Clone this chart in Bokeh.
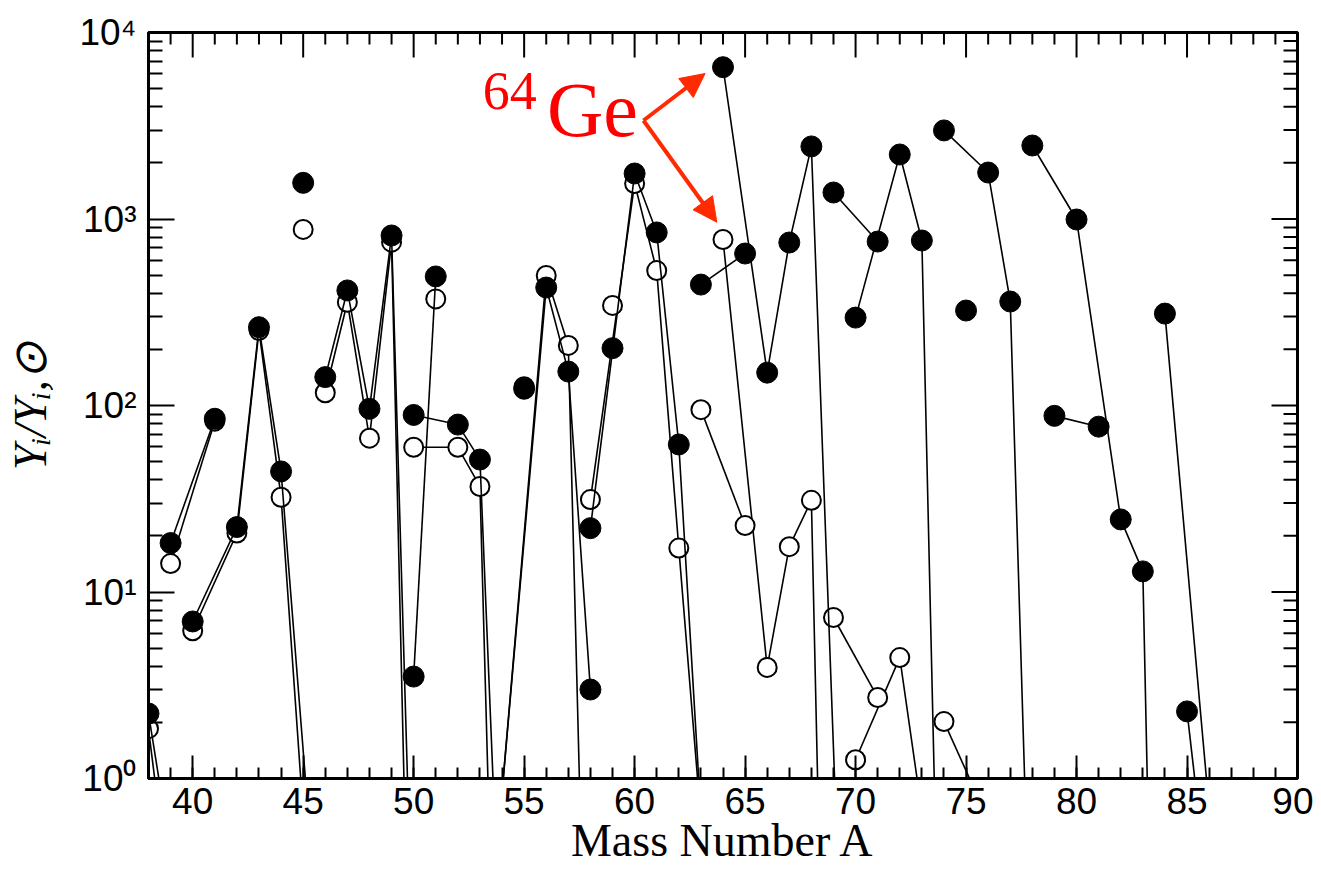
import math
from bokeh.plotting import figure
from bokeh.models import FixedTicker, Label, Arrow, NormalHead
from bokeh.embed import file_html
from bokeh.resources import INLINE

# ---------------- data (isotope chains: element, mass number A, Y_i / Y_i,sun) -------------
filled_elem = ["Ar", "Ar", "K", "K", "Ca", "Ca", "Ca", "Ca", "Ca", "Sc",
               "Ti", "Ti", "Ti", "Ti", "Ti", "V", "V", "Cr", "Cr", "Cr", "Cr", "Mn",
               "Fe", "Fe", "Fe", "Fe", "Co", "Ni", "Ni", "Ni", "Ni", "Ni", "Cu", "Cu",
               "Zn", "Zn", "Zn", "Zn", "Zn", "Ga", "Ga", "Ge", "Ge", "Ge", "Ge", "As",
               "Se", "Se", "Se", "Se", "Br", "Br", "Kr", "Kr", "Kr", "Kr", "Kr",
               "Rb", "Rb", "Sr", "Sr"]
filled_A = [38, 40, 39, 41, 40, 42, 43, 44, 46, 45,
            46, 47, 48, 49, 50, 50, 51, 50, 52, 53, 54, 55,
            54, 56, 57, 58, 59, 58, 60, 61, 62, 64, 63, 65,
            64, 66, 67, 68, 70, 69, 71, 70, 72, 73, 74, 75,
            74, 76, 77, 78, 79, 81, 78, 80, 82, 83, 84,
            85, 87, 84, 86]
filled_Y = [2.23, 0.073, 18.3, 84.9, 6.95, 22.3, 263, 44.3, 0.045, 1563,
            142, 414, 96, 816, 0.074, 3.52, 492, 89, 79, 51.3, 0.065, 123,
            0.84, 429, 152, 3.0, 203, 22.0, 1754, 847, 61.8, 0.0065, 445, 653,
            6516, 150, 748, 2450, 0.00085, 1387, 757, 296, 2218, 767, 0.0054, 323,
            2985, 1775, 361, 0.042, 88, 77, 2478, 994, 24.5, 12.9, 3.6e-5,
            2.29, 0.02, 311, 0.69]

open_elem = ["Ar", "Ar", "K", "K", "Ca", "Ca", "Ca", "Ca", "Ca", "Sc",
             "Ti", "Ti", "Ti", "Ti", "Ti", "V", "Cr", "Cr", "Cr", "Cr", "Mn",
             "Fe", "Fe", "Fe", "Fe", "Co", "Ni", "Ni", "Ni", "Ni", "Ni", "Cu", "Cu",
             "Zn", "Zn", "Zn", "Zn", "Zn", "Ga", "Ga", "Ge", "Ge", "Ge", "Se", "Se"]
open_A = [38, 40, 39, 41, 40, 42, 43, 44, 46, 45,
          46, 47, 48, 49, 50, 51, 50, 52, 53, 54, 55,
          54, 56, 57, 58, 59, 58, 60, 61, 62, 64, 63, 65,
          64, 66, 67, 68, 70, 69, 71, 70, 72, 73, 74, 76]
open_Y = [1.85, 0.0226, 14.2, 82.4, 6.2, 20.7, 253, 32.2, 0.013, 879,
          117, 358, 66.8, 751, 0.0055, 373, 59.7, 59.7, 36.8, 0.0017, 126,
          0.84, 498, 210, 0.0048, 344, 31.3, 1550, 529, 17.2, 0.021, 95, 22.7,
          776, 3.94, 17.5, 31, 7e-10, 7.3, 2.72, 1.26, 4.45, 0.66, 2.02, 0.60]

x_major = [40, 45, 50, 55, 60, 65, 70, 75, 80, 85, 90]
x_minor = list(range(38, 91))
y_major = [1, 10, 100, 1000, 10000]
y_minor = [m * 10 ** k for k in range(0, 4) for m in range(2, 10)]
y_labels = ["10\u2070", "10\u00b9", "10\u00b2", "10\u00b3", "10\u2074"]

X0, X1 = 38, 90
Y0, Y1 = 1, 10000


def chains(elem, A, Y):
    xs, ys = [], []
    prev = None
    for e, a, y in zip(elem, A, Y):
        if e != prev:
            xs.append([])
            ys.append([])
            prev = e
        xs[-1].append(a)
        ys[-1].append(y)
    return xs, ys


p = figure(width=1313, height=870, x_range=(X0, X1), y_range=(Y0, Y1),
           y_axis_type="log", output_backend="svg", toolbar_location=None,
           min_border_left=148, min_border_right=16, min_border_top=32,
           min_border_bottom=92)
p.xgrid.visible = False
p.ygrid.visible = False
p.outline_line_color = "black"
p.outline_line_width = 3
p.background_fill_color = "white"
p.border_fill_color = "white"


def style(ax):
    ax.axis_line_width = 3
    ax.axis_line_color = "black"
    ax.major_tick_line_width = 2
    ax.minor_tick_line_width = 2
    ax.major_tick_out = 0
    ax.minor_tick_out = 0
    ax.major_label_text_font = "Liberation Sans"
    ax.major_label_text_color = "black"


xa = p.xaxis[0]
xa.ticker = FixedTicker(ticks=x_major, minor_ticks=x_minor)
style(xa)
xa.major_tick_in = 23
xa.minor_tick_in = 11
xa.major_label_text_font_size = "37px"
xa.major_label_standoff = 9
xa.axis_label = "Mass Number A"
xa.axis_label_text_font = "Liberation Serif"
xa.axis_label_text_font_style = "normal"
xa.axis_label_text_font_size = "46px"
xa.axis_label_text_color = "black"
xa.axis_label_standoff = -2

ya = p.yaxis[0]
ya.ticker = FixedTicker(ticks=y_major, minor_ticks=y_minor)
style(ya)
ya.major_tick_in = 26
ya.minor_tick_in = 14
ya.major_label_text_font_size = "37px"
ya.major_label_standoff = 12
ya.major_label_overrides = {v: s for v, s in zip(y_major, y_labels)}
ya.axis_label = "Y\u1d62/Y\u1d62,\u2299"
ya.axis_label_text_font = "Liberation Serif"
ya.axis_label_text_font_style = "italic"
ya.axis_label_text_font_size = "46px"
ya.axis_label_text_color = "black"
ya.axis_label_standoff = 20

# mirrored ticks on top and right edges (half of each dash is clipped by the frame)
x_minor_only = [t for t in x_minor if t not in x_major]
p.scatter(x_major, [Y1] * len(x_major), marker="dash", angle=math.pi / 2,
          size=50, line_color="black", line_width=2)
p.scatter(x_minor_only, [Y1] * len(x_minor_only), marker="dash", angle=math.pi / 2,
          size=24, line_color="black", line_width=2)
p.scatter([X1] * len(y_major), y_major, marker="dash", size=52,
          line_color="black", line_width=2)
p.scatter([X1] * len(y_minor), y_minor, marker="dash", size=28,
          line_color="black", line_width=2)

# open model
oxs, oys = chains(open_elem, open_A, open_Y)
p.multi_line(oxs, oys, line_color="black", line_width=1.6)
p.scatter(open_A, open_Y, marker="circle", size=19, fill_color="white",
          line_color="black", line_width=2)

# filled model
fxs, fys = chains(filled_elem, filled_A, filled_Y)
p.multi_line(fxs, fys, line_color="black", line_width=1.6)
p.scatter(filled_A, filled_Y, marker="circle", size=21, fill_color="black",
          line_color="black", line_width=1)

# annotation 64Ge
red = "#ff0000"
arrow_red = "#ff2a00"
p.add_layout(Label(x=53.13, y=3963, y_offset=16, text="64", text_font="Liberation Serif",
                   text_font_size="54px", text_color=red, text_align="left",
                   text_baseline="alphabetic"))
p.add_layout(Label(x=56.03, y=2704, y_offset=29, text="Ge", text_font="Liberation Serif",
                   text_font_size="78px", text_color=red, text_align="left",
                   text_baseline="alphabetic"))
for xe, ye in [(63.19, 6026), (63.72, 961)]:
    p.add_layout(Arrow(end=NormalHead(size=24, fill_color=arrow_red,
                                      line_color=arrow_red, line_width=1),
                       x_start=60.40, y_start=3375, x_end=xe, y_end=ye,
                       line_color=arrow_red, line_width=4))

open("out.html", "w").write(file_html(p, INLINE))
